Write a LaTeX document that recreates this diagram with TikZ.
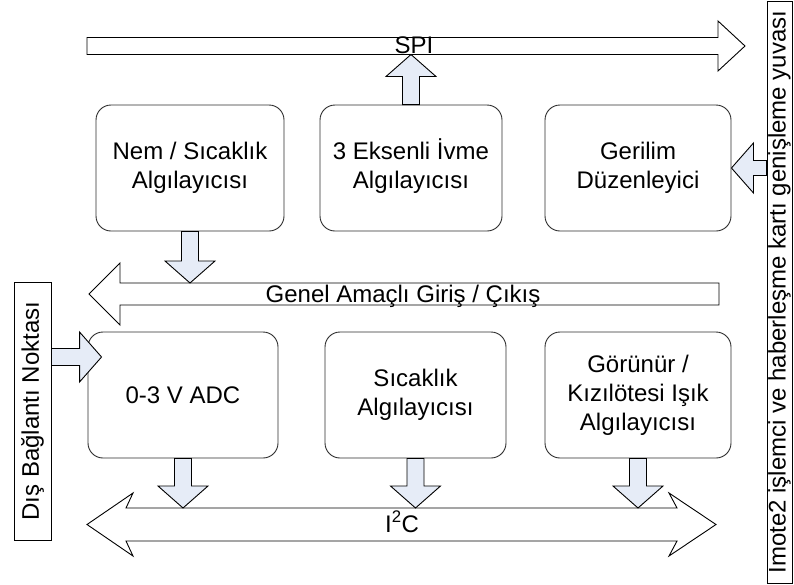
\documentclass[tikz,border=0pt]{standalone}
\usepackage{fontspec}
\usepackage{graphicx}
\setmainfont{Liberation Sans}
\usetikzlibrary{calc}

\definecolor{flowfill}{RGB}{230,236,247}
\definecolor{edgegray}{RGB}{45,45,45}

\tikzset{
  block/.style={draw=edgegray, line width=0.9pt, rounded corners=15pt, fill=white,
    align=center, inner sep=0pt, font=\fontsize{24}{29}\selectfont},
  busarrow/.style={draw=black, line width=0.9pt, fill=white, line join=miter},
  flowarrow/.style={draw=black, line width=0.9pt, fill=flowfill, line join=miter},
  buslabel/.style={inner sep=0pt, anchor=base, font=\fontsize{24}{29}\selectfont},
  slot/.style={draw=black, line width=0.9pt, fill=white, inner sep=0pt,
    font=\fontsize{24}{29}\selectfont},
}

% Block arrow from #2 to #3, shaft half-width #1, head 22pt long and 50pt wide
\newcommand\blockflow[3][8.5]{%
  \draw[flowarrow]
    ($(#2)!#1pt!90:(#3)$)
    -- ($(#3)!22pt!(#2)!#1pt!90:(#3)$)
    -- ($(#3)!22pt!(#2)!25pt!90:(#3)$)
    -- (#3)
    -- ($(#3)!22pt!(#2)!25pt!-90:(#3)$)
    -- ($(#3)!22pt!(#2)!#1pt!-90:(#3)$)
    -- ($(#2)!#1pt!-90:(#3)$)
    -- cycle;}

\begin{document}
\begin{tikzpicture}[x=1pt, y=-1pt]
  \useasboundingbox (0,0) rectangle (794,584);

  % ---- buses ----
  % SPI (to the right)
  \draw[busarrow] (87,37.5) -- (718,37.5) -- (718,21) -- (745,46) -- (718,71)
    -- (718,54.5) -- (87,54.5) -- cycle;
  \coordinate (spiB) at (0,54.5);
  \node[buslabel] (spi) at (414,53.5) {SPI};

  % general purpose I/O (to the left)
  \draw[busarrow] (719,283) -- (120,283) -- (120,263) -- (89,294) -- (120,325)
    -- (120,305) -- (719,305) -- cycle;
  \coordinate (gpioT) at (0,283);
  \node[buslabel] (gpio) at (403,302) {Genel Amaçlı Giriş / Çıkış};

  % I2C (both directions)
  \draw[busarrow] (126,508) -- (677,508) -- (669,493) -- (716,524.5) -- (669,556)
    -- (677,541) -- (126,541) -- (133,556) -- (87,524.5) -- (133,493) -- cycle;
  \coordinate (i2cT) at (0,508);
  \node[buslabel] (i2c) at (402,532) {I\textsuperscript{2}C};

  % ---- sensor and regulator blocks ----
  \node[block, minimum width=188, minimum height=126] (nem) at (190,168)
    {Nem / Sıcaklık\\Algılayıcısı};
  \node[block, minimum width=182, minimum height=126] (ivme) at (411,168)
    {3 Eksenli \smash{İ}vme\\Algılayıcısı};
  \node[block, minimum width=186, minimum height=126] (gerilim) at (638,168)
    {Gerilim\\Düzenleyici};

  \node[block, minimum width=190, minimum height=126] (adc) at (183,395)
    {0-3 V ADC};
  \node[block, minimum width=181, minimum height=126] (sicaklik) at (415.5,395)
    {Sıcaklık\\Algılayıcısı};
  \node[block, minimum width=186, minimum height=126] (isik) at (638,395)
    {Görünür /\\Kızılötesi Işık\\Algılayıcısı};

  % ---- side connectors ----
  \node[slot, minimum width=37, minimum height=258] (dis) at (32.5,411)
    {\rotatebox{90}{Dış Bağlantı Noktası}};
  \node[slot, minimum width=25, minimum height=582] (imote) at (779.5,292)
    {\rotatebox{90}{Imote2 işlemci ve haberleşme kartı genişleme yuvası}};

  % ---- data flow ----
  \blockflow{ivme.north}{ivme.north |- spiB}
  \blockflow{nem.south}{nem.south |- gpioT}
  \blockflow{adc.south}{adc.south |- i2cT}
  \blockflow{sicaklik.south}{sicaklik.south |- i2cT}
  \blockflow{isik.south}{isik.south |- i2cT}

  \coordinate (adcin) at ($(adc.west)+(14,-38)$);
  \blockflow{dis.east |- adcin}{adcin}
  \blockflow[7.5]{imote.west |- gerilim.east}{gerilim.east}
\end{tikzpicture}
\end{document}
